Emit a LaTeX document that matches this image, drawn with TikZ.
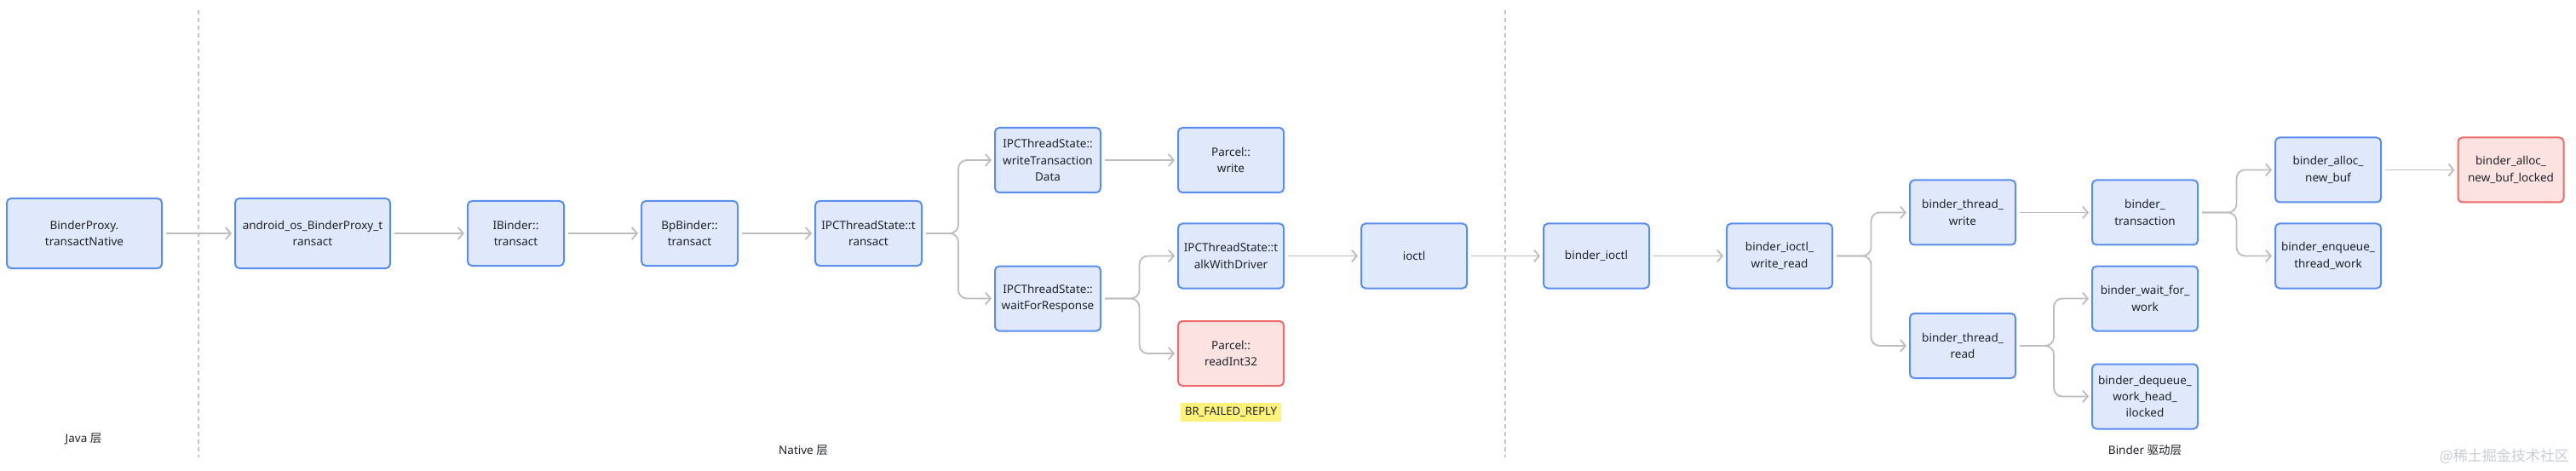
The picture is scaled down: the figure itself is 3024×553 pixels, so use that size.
\documentclass[tikz,border=0pt]{standalone}
\usepackage{fontspec}
\setmainfont{Noto Sans}
\newfontfamily\cjk{Noto Sans CJK SC}
\usetikzlibrary{arrows.meta,calc}
\definecolor{boxblue}{HTML}{5B8DEF}
\definecolor{boxfill}{HTML}{E0E9FC}
\definecolor{redline}{HTML}{EE6B6B}
\definecolor{redfill}{HTML}{FDE2E2}
\definecolor{conncol}{HTML}{BDBDBD}
\definecolor{divcol}{HTML}{C4C4C4}
\definecolor{txt}{HTML}{1F2329}
\definecolor{hl}{HTML}{FFF27A}
\definecolor{wm}{HTML}{C9CDD4}
\tikzset{
  fn/.style={draw=boxblue, fill=boxfill, line width=2pt, rounded corners=5pt,
    minimum width=124pt, minimum height=76pt, inner sep=0pt, align=center,
    text=txt, font=\fontsize{13.5}{19.3}\selectfont},
  wide/.style={minimum width=182pt, minimum height=82pt},
  narrow/.style={minimum width=113pt},
  err/.style={draw=redline, fill=redfill},
  conn/.style={draw=conncol, line width=1.8pt,
    -{Straight Barb[length=6pt,width=14pt,line width=1.8pt]},
    shorten <=4pt, shorten >=3pt, rounded corners=10pt},
  layer/.style={text=txt, inner sep=0pt, font=\fontsize{13.5}{16}\selectfont},
  divider/.style={draw=divcol, line width=1.8pt, dash pattern=on 5pt off 4pt},
}
\begin{document}
\begin{tikzpicture}[x=1pt,y=-1pt]
\useasboundingbox (0,0) rectangle (3024,553);
\fill[white] (0,0) rectangle (3024,553);

% dividers
\coordinate (d1t) at (233,12); \coordinate (d1b) at (233,537);
\coordinate (d2t) at (1767,12); \coordinate (d2b) at (1767,537);
\draw[divider] (d1t) -- (d1b);
\draw[divider] (d2t) -- (d2b);

% nodes
\node[fn,wide] (bp) at (99,274) {BinderProxy.\\transactNative};
\node[fn,wide] (aos) at (367,274) {android\_os\_BinderProxy\_t\\ransact};
\node[fn,narrow] (ib) at (605.5,274) {IBinder::\\transact};
\node[fn,narrow] (bpb) at (809.5,274) {BpBinder::\\transact};
\node[fn,minimum width=125pt] (ipct) at (1019.5,274) {IPCThreadState::t\\ransact};
\node[fn] (wtd) at (1230,188) {IPCThreadState::\\writeTransaction\\Data};
\node[fn] (wfr) at (1230,350.5) {IPCThreadState::\\waitForResponse};
\node[fn] (pw) at (1445,188) {Parcel::\\write};
\node[fn] (twd) at (1445,300.5) {IPCThreadState::t\\alkWithDriver};
\node[fn,err] (ri) at (1445,415) {Parcel::\\readInt32};
\node[fill=hl, text=txt, inner xsep=5pt, minimum height=22pt, font=\fontsize{13}{16}\selectfont] (br) at (1445,484) {BR\_FAILED\_REPLY};
\node[fn] (ioctl) at (1660,300.5) {ioctl};
\node[fn] (bio) at (1874,300.5) {binder\_ioctl};
\node[fn] (bwr) at (2089,300.5) {binder\_ioctl\_\\write\_read};
\node[fn] (btw) at (2304,249.5) {binder\_thread\_\\write};
\node[fn] (btr) at (2304,406) {binder\_thread\_\\read};
\node[fn] (bt) at (2518,249.5) {binder\_\\transaction};
\node[fn] (bwf) at (2518,350.5) {binder\_wait\_for\_\\work};
\node[fn] (bdq) at (2518,465.5) {binder\_dequeue\_\\work\_head\_\\ilocked};
\node[fn] (ban) at (2733,199.5) {binder\_alloc\_\\new\_buf};
\node[fn] (beq) at (2733,300.5) {binder\_enqueue\_\\thread\_work};
\node[fn,err] (banl) at (2947.5,199.5) {binder\_alloc\_\\new\_buf\_locked};

% layer labels
\node[layer] (ljava) at (98,515) {Java {\cjk 层}};
\node[layer] (lnative) at (943,529) {Native {\cjk 层}};
\node[layer] (lbinder) at (2518,529) {Binder {\cjk 驱动层}};
\node[text=wm, inner sep=0pt, font=\cjk\fontsize{17}{20}\selectfont, anchor=east] (wmk) at (3016,536) {@稀土掘金技术社区};

% straight connectors
\draw[conn] (bp.east) -- (aos.west);
\draw[conn] (aos.east) -- (ib.west);
\draw[conn] (ib.east) -- (bpb.west);
\draw[conn] (bpb.east) -- (ipct.west);
\draw[conn] (wtd.east) -- (pw.west);
\draw[conn] (twd.east) -- (ioctl.west);
\draw[conn] (ioctl.east) -- (bio.west);
\draw[conn] (bio.east) -- (bwr.west);
\draw[conn] (btw.east) -- (bt.west);
\draw[conn] (ban.east) -- (banl.west);

% branching connectors
\coordinate (m1) at ($(ipct.east)!.5!(wtd.west)$);
\draw[conn] (ipct.east) -- (ipct.east -| m1) |- (wtd.west);
\draw[conn] (ipct.east) -- (ipct.east -| m1) |- (wfr.west);
\coordinate (m2) at ($(wfr.east)!.5!(twd.west)$);
\draw[conn] (wfr.east) -- (wfr.east -| m2) |- (twd.west);
\draw[conn] (wfr.east) -- (wfr.east -| m2) |- (ri.west);
\coordinate (m3) at ($(bwr.east)!.5!(btw.west)$);
\draw[conn] (bwr.east) -- (bwr.east -| m3) |- (btw.west);
\draw[conn] (bwr.east) -- (bwr.east -| m3) |- (btr.west);
\coordinate (m4) at ($(btr.east)!.5!(bwf.west)$);
\draw[conn] (btr.east) -- (btr.east -| m4) |- (bwf.west);
\draw[conn] (btr.east) -- (btr.east -| m4) |- (bdq.west);
\coordinate (m5) at ($(bt.east)!.5!(ban.west)$);
\draw[conn] (bt.east) -- (bt.east -| m5) |- (ban.west);
\draw[conn] (bt.east) -- (bt.east -| m5) |- (beq.west);
\end{tikzpicture}
\end{document}
